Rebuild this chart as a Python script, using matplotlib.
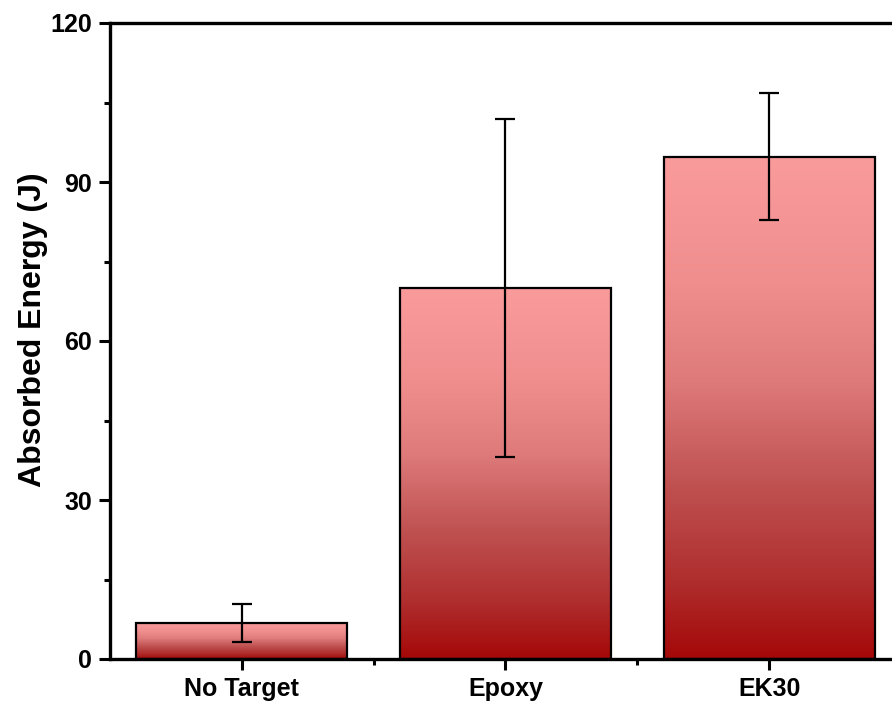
import numpy as np
import matplotlib
matplotlib.use("Agg")
import matplotlib.pyplot as plt
from matplotlib.colors import LinearSegmentedColormap
from matplotlib.ticker import MultipleLocator, FixedLocator

categories = ["No Target", "Epoxy", "EK30"]
energy = [6.8, 70.0, 94.8]
energy_err = [3.6, 31.8, 12.0]
y_ticks = [0, 30, 60, 90, 120]

plt.rcParams['font.family'] = ['Liberation Sans', 'DejaVu Sans']
plt.rcParams['font.weight'] = 'bold'

fig = plt.figure(figsize=(8.92, 7.02), dpi=100)
ax = fig.add_axes([110/892, 1 - 659/702, (901 - 110)/892, (659 - 23)/702])

x = np.arange(len(categories))
bars = ax.bar(x, energy, width=0.8, facecolor='none', edgecolor='black',
              linewidth=1.6, zorder=3)

cmap = LinearSegmentedColormap.from_list(
    "redgrad",
    [(0.0, (165/255, 8/255, 8/255)),
     (0.15, (175/255, 45/255, 45/255)),
     (0.35, (192/255, 82/255, 82/255)),
     (0.55, (222/255, 122/255, 122/255)),
     (0.75, (240/255, 142/255, 142/255)),
     (1.0, (250/255, 155/255, 155/255))])
grad = np.linspace(0, 1, 256).reshape(-1, 1)
for b in bars:
    x0, y0 = b.get_x(), b.get_y()
    w, h = b.get_width(), b.get_height()
    im = ax.imshow(grad, cmap=cmap, origin='lower', aspect='auto',
                   extent=[x0, x0 + w, y0, y0 + h], zorder=2,
                   interpolation='bilinear')
    im.set_clip_path(b)

ax.errorbar(x, energy, yerr=energy_err, fmt='none', ecolor='black',
            elinewidth=1.6, capsize=7, capthick=1.6, zorder=4)

ax.set_xlim(-0.5, 2.5)
ax.set_ylim(0, 120)
ax.set_xticks(x)
ax.set_xticklabels(categories, fontsize=18, fontweight='bold')
ax.xaxis.set_minor_locator(FixedLocator([0.5, 1.5]))
ax.set_yticks(y_ticks)
ax.set_yticklabels([str(v) for v in y_ticks], fontsize=18, fontweight='bold')
ax.yaxis.set_minor_locator(MultipleLocator(15))

ax.tick_params(axis='both', which='major', direction='out', length=8, width=2.2, pad=5)
ax.tick_params(axis='both', which='minor', direction='out', length=4, width=2.2)
for s in ax.spines.values():
    s.set_linewidth(2.4)

ax.set_ylabel("Absorbed Energy (J)", fontsize=23, fontweight='bold')
ax.yaxis.set_label_coords(-0.078, 0.518)

fig.savefig("out.png", dpi=100)
